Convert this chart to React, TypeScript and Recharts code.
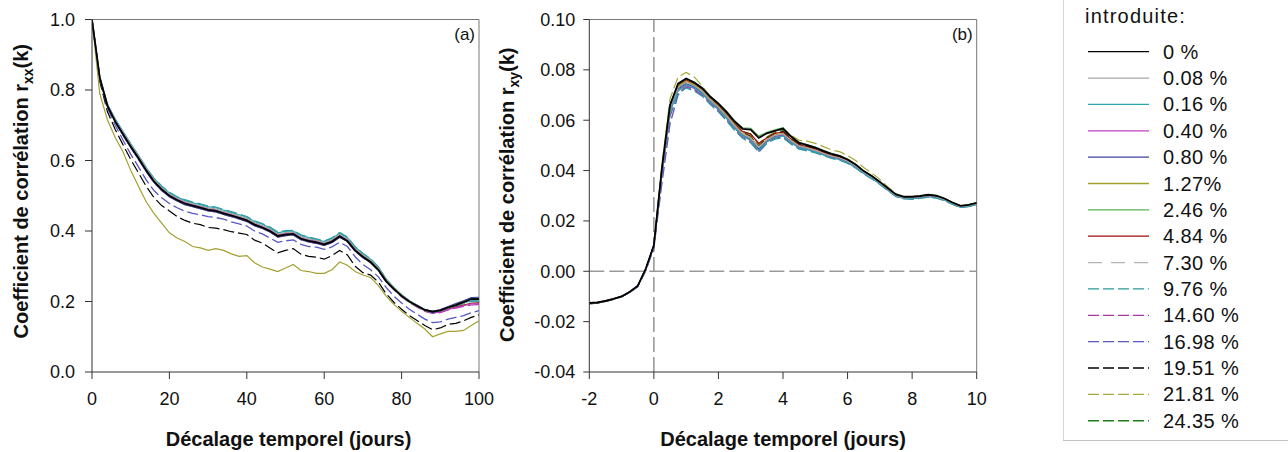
import { Label, Line, LineChart, ReferenceLine, XAxis, YAxis } from 'recharts'

const FONT = '"Liberation Sans", Arial, Helvetica, sans-serif'

// lag axis of panel (a), in days
const DAYS_A = [
  0, 2, 4, 6, 8, 10, 12, 14, 16, 18, 20, 22, 24, 26, 28, 30, 32, 34, 36, 38,
  40, 42, 44, 46, 48, 50, 52, 54, 56, 58, 60, 62, 64, 66, 68, 70, 72, 74, 76, 78,
  80, 82, 84, 86, 88, 90, 92, 94, 96, 98, 100,
]

// lag axis of panel (b), in days
const LAGS_B = [
  -2, -1.75, -1.5, -1.25, -1, -0.75, -0.5, -0.25, 0, 0.25, 0.5, 0.75, 1, 1.25, 1.5, 1.75,
  2, 2.25, 2.5, 2.75, 3, 3.25, 3.5, 3.75, 4, 4.25, 4.5, 4.75, 5, 5.25, 5.5, 5.75,
  6, 6.25, 6.5, 6.75, 7, 7.25, 7.5, 7.75, 8, 8.25, 8.5, 8.75, 9, 9.25, 9.5, 9.75, 10,
]

const X_TICKS_A = [0, 20, 40, 60, 80, 100]
const Y_TICKS_A = [0, 0.2, 0.4, 0.6, 0.8, 1.0]
const X_TICKS_B = [-2, 0, 2, 4, 6, 8, 10]
const Y_TICKS_B = [-0.04, -0.02, 0, 0.02, 0.04, 0.06, 0.08, 0.1]

// ---- panel (a): autocorrelation r_xx(k) ----
const rxx0 = [
  1.000, 0.835, 0.755, 0.711, 0.675, 0.640, 0.607, 0.572, 0.541, 0.518,
  0.500, 0.488, 0.478, 0.472, 0.466, 0.460, 0.457, 0.450, 0.444, 0.437,
  0.430, 0.418, 0.410, 0.400, 0.386, 0.390, 0.392, 0.378, 0.372, 0.368,
  0.362, 0.370, 0.385, 0.372, 0.345, 0.327, 0.312, 0.290, 0.258, 0.236,
  0.216, 0.200, 0.188, 0.176, 0.171, 0.175, 0.183, 0.190, 0.198, 0.207, 0.207,
]
const rxx008 = [
  1.000, 0.836, 0.758, 0.715, 0.680, 0.645, 0.612, 0.577, 0.546, 0.523,
  0.505, 0.493, 0.483, 0.477, 0.471, 0.465, 0.462, 0.455, 0.449, 0.442,
  0.435, 0.423, 0.415, 0.405, 0.391, 0.395, 0.397, 0.383, 0.377, 0.373,
  0.367, 0.375, 0.390, 0.377, 0.350, 0.332, 0.317, 0.295, 0.262, 0.239,
  0.218, 0.201, 0.189, 0.176, 0.171, 0.175, 0.183, 0.190, 0.197, 0.205, 0.205,
]
const rxx016 = [
  1.000, 0.838, 0.760, 0.718, 0.683, 0.648, 0.615, 0.580, 0.549, 0.527,
  0.508, 0.496, 0.487, 0.480, 0.475, 0.469, 0.466, 0.459, 0.453, 0.446,
  0.439, 0.427, 0.419, 0.409, 0.395, 0.399, 0.400, 0.387, 0.381, 0.376,
  0.370, 0.379, 0.394, 0.381, 0.355, 0.336, 0.320, 0.298, 0.264, 0.240,
  0.219, 0.202, 0.189, 0.177, 0.170, 0.174, 0.183, 0.189, 0.196, 0.203, 0.202,
]
const rxx040 = [
  1.000, 0.835, 0.756, 0.713, 0.678, 0.643, 0.610, 0.575, 0.544, 0.521,
  0.503, 0.491, 0.481, 0.475, 0.469, 0.463, 0.460, 0.453, 0.447, 0.440,
  0.433, 0.421, 0.413, 0.403, 0.389, 0.393, 0.395, 0.381, 0.375, 0.371,
  0.365, 0.373, 0.388, 0.375, 0.348, 0.330, 0.315, 0.293, 0.260, 0.237,
  0.217, 0.200, 0.187, 0.174, 0.168, 0.170, 0.177, 0.183, 0.188, 0.193, 0.193,
]
const rxx080 = [
  1.000, 0.834, 0.753, 0.709, 0.672, 0.637, 0.604, 0.569, 0.538, 0.515,
  0.497, 0.485, 0.475, 0.469, 0.463, 0.457, 0.454, 0.447, 0.441, 0.434,
  0.427, 0.415, 0.407, 0.397, 0.383, 0.387, 0.389, 0.375, 0.369, 0.365,
  0.359, 0.367, 0.382, 0.370, 0.343, 0.325, 0.311, 0.289, 0.257, 0.235,
  0.216, 0.200, 0.188, 0.177, 0.172, 0.177, 0.186, 0.194, 0.202, 0.211, 0.212,
]
const rxx127 = [
  1.000, 0.790, 0.715, 0.665, 0.625, 0.572, 0.527, 0.483, 0.450, 0.422,
  0.395, 0.380, 0.370, 0.356, 0.352, 0.345, 0.350, 0.345, 0.335, 0.328,
  0.330, 0.310, 0.298, 0.292, 0.285, 0.295, 0.305, 0.288, 0.285, 0.280,
  0.280, 0.290, 0.312, 0.303, 0.285, 0.275, 0.268, 0.245, 0.215, 0.192,
  0.172, 0.155, 0.138, 0.122, 0.100, 0.108, 0.115, 0.115, 0.118, 0.132, 0.145,
]
const rxx246 = [
  1.000, 0.835, 0.754, 0.710, 0.674, 0.638, 0.605, 0.570, 0.539, 0.516,
  0.498, 0.486, 0.476, 0.470, 0.464, 0.458, 0.455, 0.448, 0.442, 0.435,
  0.428, 0.416, 0.408, 0.398, 0.384, 0.388, 0.390, 0.376, 0.370, 0.366,
  0.360, 0.368, 0.383, 0.370, 0.343, 0.325, 0.310, 0.288, 0.256, 0.234,
  0.214, 0.198, 0.186, 0.174, 0.169, 0.173, 0.181, 0.188, 0.196, 0.204, 0.204,
]
const rxx484 = [
  1.000, 0.835, 0.756, 0.713, 0.678, 0.644, 0.611, 0.576, 0.545, 0.522,
  0.504, 0.492, 0.482, 0.476, 0.470, 0.464, 0.461, 0.454, 0.448, 0.441,
  0.434, 0.422, 0.414, 0.404, 0.390, 0.394, 0.396, 0.382, 0.376, 0.372,
  0.366, 0.374, 0.389, 0.376, 0.349, 0.331, 0.316, 0.294, 0.261, 0.238,
  0.218, 0.201, 0.188, 0.175, 0.169, 0.171, 0.179, 0.185, 0.190, 0.195, 0.196,
]
const rxx730 = [
  1.000, 0.836, 0.757, 0.714, 0.679, 0.645, 0.613, 0.578, 0.547, 0.524,
  0.506, 0.494, 0.484, 0.478, 0.472, 0.466, 0.463, 0.456, 0.450, 0.443,
  0.436, 0.424, 0.416, 0.406, 0.392, 0.396, 0.398, 0.384, 0.378, 0.374,
  0.368, 0.376, 0.391, 0.378, 0.351, 0.333, 0.318, 0.296, 0.263, 0.240,
  0.219, 0.202, 0.189, 0.176, 0.170, 0.174, 0.182, 0.189, 0.196, 0.204, 0.204,
]
const rxx976 = [
  1.000, 0.837, 0.758, 0.716, 0.681, 0.647, 0.614, 0.580, 0.550, 0.528,
  0.510, 0.497, 0.489, 0.482, 0.477, 0.471, 0.468, 0.461, 0.455, 0.448,
  0.441, 0.429, 0.421, 0.411, 0.397, 0.401, 0.402, 0.389, 0.383, 0.378,
  0.372, 0.381, 0.396, 0.383, 0.356, 0.337, 0.321, 0.298, 0.263, 0.239,
  0.218, 0.201, 0.187, 0.175, 0.168, 0.172, 0.180, 0.187, 0.194, 0.200, 0.199,
]
const rxx1460 = [
  1.000, 0.834, 0.753, 0.708, 0.672, 0.637, 0.603, 0.568, 0.537, 0.515,
  0.497, 0.485, 0.475, 0.469, 0.463, 0.457, 0.454, 0.447, 0.441, 0.434,
  0.427, 0.415, 0.407, 0.397, 0.383, 0.387, 0.389, 0.375, 0.369, 0.365,
  0.359, 0.367, 0.382, 0.369, 0.342, 0.324, 0.309, 0.287, 0.255, 0.233,
  0.213, 0.197, 0.184, 0.172, 0.166, 0.168, 0.176, 0.181, 0.186, 0.190, 0.191,
]
const rxx1698 = [
  1.000, 0.830, 0.748, 0.700, 0.658, 0.618, 0.582, 0.545, 0.515, 0.494,
  0.478, 0.466, 0.456, 0.450, 0.446, 0.441, 0.438, 0.434, 0.426, 0.420,
  0.414, 0.400, 0.392, 0.380, 0.368, 0.372, 0.375, 0.362, 0.356, 0.354,
  0.348, 0.355, 0.368, 0.356, 0.327, 0.305, 0.290, 0.270, 0.240, 0.215,
  0.196, 0.178, 0.164, 0.150, 0.140, 0.142, 0.150, 0.155, 0.160, 0.168, 0.174,
]
const rxx1951 = [
  1.000, 0.825, 0.738, 0.688, 0.645, 0.603, 0.565, 0.527, 0.495, 0.472,
  0.457, 0.441, 0.430, 0.422, 0.418, 0.410, 0.408, 0.404, 0.398, 0.394,
  0.390, 0.374, 0.366, 0.352, 0.338, 0.345, 0.350, 0.334, 0.328, 0.326,
  0.320, 0.330, 0.345, 0.332, 0.300, 0.282, 0.275, 0.255, 0.222, 0.198,
  0.178, 0.160, 0.146, 0.132, 0.120, 0.125, 0.135, 0.138, 0.145, 0.155, 0.162,
]
const rxx2181 = [
  1.000, 0.834, 0.754, 0.710, 0.674, 0.639, 0.606, 0.571, 0.540, 0.517,
  0.499, 0.487, 0.477, 0.471, 0.465, 0.459, 0.456, 0.449, 0.443, 0.436,
  0.429, 0.417, 0.409, 0.399, 0.385, 0.389, 0.391, 0.377, 0.371, 0.367,
  0.361, 0.369, 0.384, 0.371, 0.344, 0.326, 0.311, 0.289, 0.257, 0.235,
  0.215, 0.199, 0.187, 0.175, 0.170, 0.174, 0.182, 0.189, 0.197, 0.205, 0.205,
]
const rxx2435 = [
  1.000, 0.835, 0.755, 0.712, 0.676, 0.641, 0.608, 0.573, 0.542, 0.519,
  0.501, 0.489, 0.479, 0.473, 0.467, 0.461, 0.458, 0.451, 0.445, 0.438,
  0.431, 0.419, 0.411, 0.401, 0.387, 0.391, 0.393, 0.379, 0.373, 0.369,
  0.363, 0.371, 0.386, 0.373, 0.346, 0.328, 0.313, 0.291, 0.259, 0.237,
  0.217, 0.201, 0.189, 0.177, 0.172, 0.176, 0.184, 0.191, 0.199, 0.208, 0.208,
]

// ---- panel (b): cross-correlation r_xy(k) ----
const rxy0 = [
  -0.0126, -0.0124, -0.0118, -0.0110, -0.0100, -0.0082, -0.0058, 0.0010,
  0.0103, 0.0410, 0.0660, 0.0745, 0.0766, 0.0750, 0.0727, 0.0693,
  0.0666, 0.0633, 0.0595, 0.0566, 0.0563, 0.0530, 0.0548, 0.0558,
  0.0567, 0.0535, 0.0510, 0.0501, 0.0491, 0.0478, 0.0466, 0.0458,
  0.0444, 0.0424, 0.0398, 0.0378, 0.0355, 0.0330, 0.0305, 0.0296,
  0.0296, 0.0299, 0.0304, 0.0300, 0.0289, 0.0273, 0.0260, 0.0264, 0.0272,
]
const rxy008 = [
  -0.0127, -0.0124, -0.0118, -0.0110, -0.0100, -0.0082, -0.0058, 0.0009,
  0.0102, 0.0405, 0.0650, 0.0730, 0.0750, 0.0737, 0.0714, 0.0680,
  0.0651, 0.0616, 0.0578, 0.0545, 0.0528, 0.0492, 0.0522, 0.0540,
  0.0546, 0.0518, 0.0497, 0.0489, 0.0480, 0.0468, 0.0457, 0.0450,
  0.0437, 0.0418, 0.0393, 0.0374, 0.0351, 0.0326, 0.0301, 0.0292,
  0.0292, 0.0295, 0.0300, 0.0296, 0.0285, 0.0270, 0.0257, 0.0261, 0.0269,
]
const rxy016 = [
  -0.0127, -0.0124, -0.0118, -0.0110, -0.0100, -0.0083, -0.0060, 0.0007,
  0.0099, 0.0392, 0.0635, 0.0718, 0.0740, 0.0728, 0.0706, 0.0672,
  0.0643, 0.0608, 0.0570, 0.0538, 0.0520, 0.0480, 0.0514, 0.0532,
  0.0538, 0.0511, 0.0490, 0.0483, 0.0474, 0.0462, 0.0451, 0.0444,
  0.0431, 0.0412, 0.0388, 0.0369, 0.0347, 0.0322, 0.0298, 0.0289,
  0.0288, 0.0291, 0.0296, 0.0292, 0.0282, 0.0267, 0.0254, 0.0258, 0.0265,
]
const rxy040 = [
  -0.0126, -0.0123, -0.0117, -0.0109, -0.0099, -0.0081, -0.0057, 0.0009,
  0.0100, 0.0395, 0.0638, 0.0718, 0.0738, 0.0726, 0.0705, 0.0671,
  0.0642, 0.0607, 0.0569, 0.0537, 0.0521, 0.0478, 0.0515, 0.0533,
  0.0540, 0.0512, 0.0491, 0.0484, 0.0475, 0.0463, 0.0452, 0.0445,
  0.0432, 0.0413, 0.0389, 0.0370, 0.0348, 0.0323, 0.0299, 0.0290,
  0.0289, 0.0292, 0.0297, 0.0293, 0.0283, 0.0268, 0.0255, 0.0259, 0.0266,
]
const rxy080 = [
  -0.0128, -0.0125, -0.0118, -0.0110, -0.0100, -0.0083, -0.0060, 0.0007,
  0.0100, 0.0398, 0.0642, 0.0724, 0.0745, 0.0732, 0.0710, 0.0676,
  0.0647, 0.0612, 0.0574, 0.0542, 0.0524, 0.0485, 0.0518, 0.0536,
  0.0542, 0.0514, 0.0494, 0.0486, 0.0477, 0.0465, 0.0454, 0.0447,
  0.0434, 0.0415, 0.0390, 0.0371, 0.0349, 0.0324, 0.0299, 0.0290,
  0.0290, 0.0293, 0.0298, 0.0294, 0.0284, 0.0269, 0.0256, 0.0260, 0.0267,
]
const rxy127 = [
  -0.0128, -0.0125, -0.0119, -0.0111, -0.0100, -0.0082, -0.0058, 0.0009,
  0.0102, 0.0405, 0.0652, 0.0735, 0.0755, 0.0742, 0.0718, 0.0684,
  0.0655, 0.0620, 0.0582, 0.0548, 0.0532, 0.0495, 0.0524, 0.0542,
  0.0548, 0.0520, 0.0498, 0.0490, 0.0481, 0.0469, 0.0458, 0.0450,
  0.0437, 0.0418, 0.0393, 0.0374, 0.0351, 0.0326, 0.0301, 0.0292,
  0.0292, 0.0295, 0.0300, 0.0296, 0.0285, 0.0270, 0.0257, 0.0261, 0.0269,
]
const rxy246 = [
  -0.0127, -0.0124, -0.0118, -0.0110, -0.0100, -0.0082, -0.0057, 0.0011,
  0.0104, 0.0415, 0.0662, 0.0743, 0.0765, 0.0752, 0.0729, 0.0695,
  0.0668, 0.0636, 0.0598, 0.0570, 0.0568, 0.0537, 0.0552, 0.0562,
  0.0570, 0.0538, 0.0512, 0.0503, 0.0493, 0.0480, 0.0468, 0.0460,
  0.0446, 0.0425, 0.0399, 0.0379, 0.0356, 0.0331, 0.0306, 0.0297,
  0.0297, 0.0300, 0.0305, 0.0301, 0.0290, 0.0274, 0.0261, 0.0265, 0.0273,
]
const rxy484 = [
  -0.0126, -0.0123, -0.0117, -0.0109, -0.0099, -0.0081, -0.0057, 0.0010,
  0.0103, 0.0410, 0.0658, 0.0740, 0.0760, 0.0746, 0.0722, 0.0688,
  0.0660, 0.0625, 0.0588, 0.0555, 0.0545, 0.0508, 0.0530, 0.0548,
  0.0553, 0.0525, 0.0502, 0.0494, 0.0485, 0.0473, 0.0461, 0.0453,
  0.0439, 0.0420, 0.0395, 0.0375, 0.0352, 0.0327, 0.0302, 0.0293,
  0.0293, 0.0296, 0.0301, 0.0297, 0.0286, 0.0271, 0.0258, 0.0262, 0.0270,
]
const rxy730 = [
  -0.0127, -0.0124, -0.0118, -0.0110, -0.0100, -0.0082, -0.0059, 0.0008,
  0.0100, 0.0395, 0.0635, 0.0715, 0.0738, 0.0727, 0.0706, 0.0673,
  0.0645, 0.0610, 0.0572, 0.0541, 0.0525, 0.0488, 0.0520, 0.0538,
  0.0545, 0.0517, 0.0495, 0.0488, 0.0479, 0.0467, 0.0456, 0.0449,
  0.0436, 0.0417, 0.0392, 0.0373, 0.0351, 0.0326, 0.0301, 0.0292,
  0.0291, 0.0294, 0.0299, 0.0295, 0.0285, 0.0270, 0.0257, 0.0261, 0.0268,
]
const rxy976 = [
  -0.0128, -0.0125, -0.0119, -0.0111, -0.0101, -0.0084, -0.0061, 0.0006,
  0.0098, 0.0385, 0.0620, 0.0705, 0.0728, 0.0716, 0.0695, 0.0662,
  0.0633, 0.0598, 0.0560, 0.0528, 0.0510, 0.0472, 0.0508, 0.0525,
  0.0530, 0.0505, 0.0485, 0.0478, 0.0470, 0.0459, 0.0448, 0.0441,
  0.0428, 0.0410, 0.0386, 0.0367, 0.0345, 0.0320, 0.0296, 0.0287,
  0.0286, 0.0289, 0.0294, 0.0290, 0.0280, 0.0265, 0.0253, 0.0257, 0.0264,
]
const rxy1460 = [
  -0.0127, -0.0124, -0.0117, -0.0109, -0.0099, -0.0081, -0.0058, 0.0006,
  0.0099, 0.0380, 0.0615, 0.0708, 0.0732, 0.0720, 0.0698, 0.0665,
  0.0636, 0.0601, 0.0563, 0.0531, 0.0514, 0.0476, 0.0511, 0.0528,
  0.0534, 0.0508, 0.0488, 0.0481, 0.0473, 0.0462, 0.0451, 0.0444,
  0.0431, 0.0412, 0.0388, 0.0369, 0.0347, 0.0322, 0.0298, 0.0289,
  0.0288, 0.0291, 0.0296, 0.0292, 0.0282, 0.0267, 0.0255, 0.0259, 0.0266,
]
const rxy1698 = [
  -0.0129, -0.0126, -0.0119, -0.0111, -0.0100, -0.0083, -0.0062, 0.0002,
  0.0092, 0.0350, 0.0585, 0.0700, 0.0735, 0.0725, 0.0703, 0.0670,
  0.0641, 0.0606, 0.0568, 0.0537, 0.0520, 0.0484, 0.0516, 0.0534,
  0.0540, 0.0513, 0.0492, 0.0485, 0.0476, 0.0465, 0.0454, 0.0447,
  0.0434, 0.0415, 0.0390, 0.0371, 0.0349, 0.0324, 0.0300, 0.0291,
  0.0290, 0.0293, 0.0298, 0.0294, 0.0284, 0.0269, 0.0256, 0.0260, 0.0267,
]
const rxy1951 = [
  -0.0128, -0.0125, -0.0119, -0.0111, -0.0101, -0.0083, -0.0059, 0.0009,
  0.0101, 0.0400, 0.0648, 0.0730, 0.0750, 0.0738, 0.0716, 0.0683,
  0.0655, 0.0620, 0.0582, 0.0551, 0.0535, 0.0498, 0.0528, 0.0548,
  0.0555, 0.0527, 0.0503, 0.0496, 0.0486, 0.0474, 0.0462, 0.0455,
  0.0441, 0.0421, 0.0395, 0.0376, 0.0353, 0.0328, 0.0303, 0.0294,
  0.0294, 0.0297, 0.0302, 0.0298, 0.0287, 0.0272, 0.0259, 0.0263, 0.0270,
]
const rxy2181 = [
  -0.0130, -0.0127, -0.0120, -0.0112, -0.0101, -0.0083, -0.0058, 0.0012,
  0.0105, 0.0425, 0.0685, 0.0772, 0.0790, 0.0772, 0.0735, 0.0695,
  0.0664, 0.0628, 0.0590, 0.0555, 0.0540, 0.0505, 0.0530, 0.0552,
  0.0565, 0.0540, 0.0520, 0.0517, 0.0508, 0.0495, 0.0482, 0.0475,
  0.0460, 0.0440, 0.0412, 0.0390, 0.0365, 0.0335, 0.0308, 0.0297,
  0.0295, 0.0297, 0.0302, 0.0298, 0.0287, 0.0271, 0.0258, 0.0262, 0.0270,
]
const rxy2435 = [
  -0.0129, -0.0126, -0.0120, -0.0112, -0.0102, -0.0084, -0.0060, 0.0010,
  0.0102, 0.0405, 0.0655, 0.0736, 0.0756, 0.0743, 0.0720, 0.0687,
  0.0659, 0.0625, 0.0587, 0.0556, 0.0545, 0.0508, 0.0533, 0.0553,
  0.0560, 0.0531, 0.0506, 0.0498, 0.0488, 0.0476, 0.0464, 0.0456,
  0.0442, 0.0422, 0.0396, 0.0377, 0.0354, 0.0329, 0.0304, 0.0295,
  0.0295, 0.0298, 0.0303, 0.0299, 0.0288, 0.0272, 0.0259, 0.0263, 0.0271,
]

type Series = {
  key: string
  label: string
  color: string
  dash?: string
  width: number
  rxx: number[]
  rxy: number[]
}

const SERIES: Series[] = [
  { key: 's0', label: '0 %', color: '#000000', width: 1.8, rxx: rxx0, rxy: rxy0 },
  { key: 's008', label: '0.08 %', color: '#a8a8a8', width: 1.2, rxx: rxx008, rxy: rxy008 },
  { key: 's016', label: '0.16 %', color: '#2aa6b0', width: 1.2, rxx: rxx016, rxy: rxy016 },
  { key: 's040', label: '0.40 %', color: '#c040c0', width: 1.2, rxx: rxx040, rxy: rxy040 },
  { key: 's080', label: '0.80 %', color: '#40409c', width: 1.2, rxx: rxx080, rxy: rxy080 },
  { key: 's127', label: '1.27%', color: '#a4a030', width: 1.2, rxx: rxx127, rxy: rxy127 },
  { key: 's246', label: '2.46 %', color: '#58b058', width: 1.2, rxx: rxx246, rxy: rxy246 },
  { key: 's484', label: '4.84 %', color: '#a00c0c', width: 1.2, rxx: rxx484, rxy: rxy484 },
  { key: 's730', label: '7.30 %', color: '#b4b4b4', dash: '14 9', width: 1.2, rxx: rxx730, rxy: rxy730 },
  { key: 's976', label: '9.76 %', color: '#2a9898', dash: '11 4', width: 1.2, rxx: rxx976, rxy: rxy976 },
  { key: 's1460', label: '14.60 %', color: '#a838a8', dash: '11 4', width: 1.2, rxx: rxx1460, rxy: rxy1460 },
  { key: 's1698', label: '16.98 %', color: '#5656c4', dash: '11 4', width: 1.3, rxx: rxx1698, rxy: rxy1698 },
  { key: 's1951', label: '19.51 %', color: '#000000', dash: '11 4', width: 1.2, rxx: rxx1951, rxy: rxy1951 },
  { key: 's2181', label: '21.81 %', color: '#a8a83c', dash: '11 4', width: 1.2, rxx: rxx2181, rxy: rxy2181 },
  { key: 's2435', label: '24.35 %', color: '#1f7f1f', dash: '11 4', width: 1.2, rxx: rxx2435, rxy: rxy2435 },
]

const dataA = DAYS_A.map((d, i) => {
  const row: Record<string, number> = { lag: d }
  SERIES.forEach((s) => (row[s.key] = s.rxx[i]))
  return row
})

const dataB = LAGS_B.map((d, i) => {
  const row: Record<string, number> = { lag: d }
  SERIES.forEach((s) => (row[s.key] = s.rxy[i]))
  return row
})

// draw the legend's first entries last so the black curve sits on top
const DRAW_ORDER = [...SERIES].reverse()

const tickStyle = { fontSize: 18, fill: '#111', fontFamily: FONT }

function XTitle({ viewBox, shift = 0 }: any) {
  return (
    <text
      x={viewBox.x + viewBox.width / 2 + shift}
      y={viewBox.y + 74}
      textAnchor="middle"
      fontSize={20}
      fontWeight="bold"
      fontFamily={FONT}
      fill="#111"
    >
      Décalage temporel (jours)
    </text>
  )
}

function YTitle({ viewBox, base, shift, sub }: any) {
  const cx = viewBox.x + base
  const cy = viewBox.y + viewBox.height / 2 + shift
  return (
    <text
      transform={`rotate(-90 ${cx} ${cy})`}
      x={cx}
      y={cy}
      textAnchor="middle"
      fontSize={20}
      fontWeight="bold"
      fontFamily={FONT}
      fill="#111"
    >
      Coefficient de corrélation r
      <tspan dy={5} fontSize={14}>{sub}</tspan>
      <tspan dy={-5}>(k)</tspan>
    </text>
  )
}

function PanelTag({ viewBox, text }: any) {
  return (
    <text x={viewBox.x - 4} y={viewBox.y + 20} textAnchor="end" fontSize={17} fontFamily={FONT} fill="#111">
      {text}
    </text>
  )
}

function renderLines() {
  return DRAW_ORDER.map((s) => (
    <Line
      key={s.key}
      type="linear"
      dataKey={s.key}
      stroke={s.color}
      strokeWidth={s.width}
      strokeDasharray={s.dash}
      dot={false}
      activeDot={false}
      isAnimationActive={false}
    />
  ))
}

function LegendBox() {
  return (
    <svg width={238} height={452} style={{ position: 'absolute', left: 1050, top: 0 }}>
      <line x1={13.5} y1={0} x2={13.5} y2={440} stroke="#d6d6d6" />
      <line x1={13} y1={440.5} x2={238} y2={440.5} stroke="#c2c2c2" />
      <text x={35} y={23} fontSize={20} fontFamily={FONT} letterSpacing={1.2} fill="#111">
        introduite:
      </text>
      {SERIES.map((s, i) => {
        const y = 51.7 + i * 26.36
        return (
          <g key={s.key}>
            <line x1={38} x2={99} y1={y} y2={y} stroke={s.color} strokeWidth={1.3} strokeDasharray={s.dash} />
            <text x={113} y={y + 7} fontSize={20} fontFamily={FONT} letterSpacing={0.4} fill="#111">
              {s.label}
            </text>
          </g>
        )
      })}
    </svg>
  )
}

export default function App() {
  return (
    <div style={{ position: 'absolute', left: 0, top: 0, width: 1288, height: 452, background: '#fff', fontFamily: FONT }}>
      <div style={{ position: 'absolute', left: 0, top: 0 }}>
        <LineChart width={500} height={452} data={dataA} margin={{ top: 19.5, right: 21, bottom: 0, left: 0 }}>
          <XAxis
            dataKey="lag"
            type="number"
            domain={[0, 100]}
            ticks={X_TICKS_A}
            height={80}
            tick={tickStyle}
            tickSize={7}
            tickMargin={13}
            stroke="#333"
            allowDataOverflow
          >
            <Label content={(p: any) => <XTitle {...p} shift={3} />} />
          </XAxis>
          <YAxis
            type="number"
            domain={[0, 1]}
            ticks={Y_TICKS_A}
            width={92}
            tick={tickStyle}
            tickSize={7}
            tickMargin={10}
            tickFormatter={(v: number) => v.toFixed(1)}
            stroke="#333"
            allowDataOverflow
          >
            <Label content={(p: any) => <YTitle {...p} base={28} shift={-4.5} sub="xx" />} />
          </YAxis>
          <ReferenceLine y={1} stroke="#777" />
          <ReferenceLine x={100} stroke="#777">
            <Label content={(p: any) => <PanelTag {...p} text="(a)" />} />
          </ReferenceLine>
          {renderLines()}
        </LineChart>
      </div>
      <div style={{ position: 'absolute', left: 480, top: 0 }}>
        <LineChart width={520} height={452} data={dataB} margin={{ top: 19.5, right: 23.3, bottom: 0, left: 0 }}>
          <XAxis
            dataKey="lag"
            type="number"
            domain={[-2, 10]}
            ticks={X_TICKS_B}
            height={80}
            tick={tickStyle}
            tickSize={7}
            tickMargin={13}
            stroke="#333"
            allowDataOverflow
          >
            <Label content={(p: any) => <XTitle {...p} shift={0} />} />
          </XAxis>
          <YAxis
            type="number"
            domain={[-0.04, 0.1]}
            ticks={Y_TICKS_B}
            width={109.3}
            tick={tickStyle}
            tickSize={6}
            tickMargin={8}
            tickFormatter={(v: number) => v.toFixed(2)}
            stroke="#333"
            allowDataOverflow
          >
            <Label content={(p: any) => <YTitle {...p} base={34} shift={-1} sub="xy" />} />
          </YAxis>
          <ReferenceLine y={0.1} stroke="#777" />
          <ReferenceLine x={10} stroke="#777">
            <Label content={(p: any) => <PanelTag {...p} text="(b)" />} />
          </ReferenceLine>
          <ReferenceLine y={0} stroke="#9a9a9a" strokeWidth={1.6} strokeDasharray="15 5" />
          <ReferenceLine x={0} stroke="#9a9a9a" strokeWidth={1.6} strokeDasharray="15 5" />
          {renderLines()}
        </LineChart>
      </div>
      <LegendBox />
    </div>
  )
}
